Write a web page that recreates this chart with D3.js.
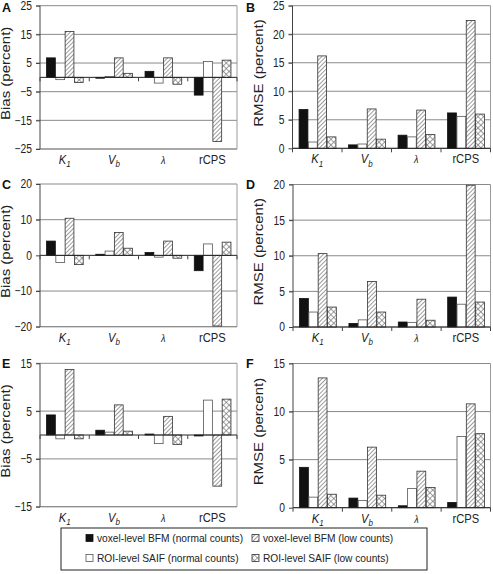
<!DOCTYPE html>
<html><head><meta charset="utf-8">
<script src="https://cdn.jsdelivr.net/npm/d3@7"></script>
<style>body{margin:0;background:#fff}svg{display:block;font-family:"Liberation Sans",Arial,sans-serif}</style>
</head><body><svg id="c" width="493" height="574"></svg>
<script>
const categories = ["K1", "Vb", "λ", "rCPS"];
const seriesNames = ["voxel-level BFM (normal counts)", "ROI-level SAIF (normal counts)", "voxel-level BFM (low counts)", "ROI-level SAIF (low counts)"];

// Panel A: bias
const A_voxelNormal = [6.8, -0.3, 2.1, -6.2];
const A_roiNormal   = [-0.8, 0.3, -2.0, 5.5];
const A_voxelLow    = [16.0, 6.8, 6.8, -22.4];
const A_roiLow      = [-1.8, 1.4, -2.4, 6.0];
const A_ticks = [-25, -15, -5, 5, 15, 25];
// Panel B: RMSE
const B_voxelNormal = [6.8, 0.6, 2.3, 6.2];
const B_roiNormal   = [1.1, 0.75, 2.0, 5.6];
const B_voxelLow    = [16.2, 6.9, 6.7, 22.4];
const B_roiLow      = [2.0, 1.6, 2.4, 6.0];
const B_ticks = [0, 5, 10, 15, 20, 25];
// Panel C: bias
const C_voxelNormal = [4.0, 0.3, 0.8, -4.3];
const C_roiNormal   = [-2.0, 1.2, -0.5, 3.2];
const C_voxelLow    = [10.4, 6.4, 4.0, -19.8];
const C_roiLow      = [-2.6, 2.0, -0.8, 3.7];
const C_ticks = [-20, -10, 0, 10, 20];
// Panel D: RMSE
const D_voxelNormal = [4.0, 0.5, 0.7, 4.2];
const D_roiNormal   = [2.1, 1.0, 0.65, 3.2];
const D_voxelLow    = [10.3, 6.4, 3.9, 19.9];
const D_roiLow      = [2.8, 2.1, 0.95, 3.5];
const D_ticks = [0, 5, 10, 15, 20];
// Panel E: bias
const E_voxelNormal = [4.2, 1.0, 0.2, -0.2];
const E_roiNormal   = [-0.8, 0.6, -1.8, 7.3];
const E_voxelLow    = [13.7, 6.3, 3.9, -10.7];
const E_roiLow      = [-0.8, 0.8, -2.0, 7.5];
const E_ticks = [-15, -5, 5, 15];
// Panel F: RMSE
const F_voxelNormal = [4.2, 1.0, 0.2, 0.55];
const F_roiNormal   = [1.1, 0.75, 2.0, 7.4];
const F_voxelLow    = [13.5, 6.3, 3.8, 10.8];
const F_roiLow      = [1.4, 1.3, 2.1, 7.7];
const F_ticks = [0, 5, 10, 15];

const svg = d3.select("#c");
const defs = svg.append("defs");
const ph = defs.append("pattern").attr("id","hatch").attr("patternUnits","userSpaceOnUse")
  .attr("width",3).attr("height",3).attr("patternTransform","rotate(45)");
ph.append("rect").attr("width",3).attr("height",3).attr("fill","#fff");
ph.append("line").attr("x1",0).attr("y1",0).attr("x2",0).attr("y2",3).attr("stroke","#666").attr("stroke-width",1.3);
const pc = defs.append("pattern").attr("id","cross").attr("patternUnits","userSpaceOnUse")
  .attr("width",4).attr("height",4).attr("patternTransform","rotate(45)");
pc.append("rect").attr("width",4).attr("height",4).attr("fill","#fff");
pc.append("line").attr("x1",0).attr("y1",0).attr("x2",0).attr("y2",4).attr("stroke","#777").attr("stroke-width",1.4);
pc.append("line").attr("x1",0).attr("y1",0).attr("x2",4).attr("y2",0).attr("stroke","#777").attr("stroke-width",1.4);

const fills = ["#111", "#fff", "url(#hatch)", "url(#cross)"];
const strokes = ["#111", "#555", "#333", "#333"];

const panels = [
  {id:"A", x0:40, x1:237, y0:5.7, y1:149, dom:[-25,25], ticks:A_ticks, series:[A_voxelNormal,A_roiNormal,A_voxelLow,A_roiLow], label:"Bias (percent)", lx:10, letterX:2, letterY:12},
  {id:"B", x0:292.5, x1:490.5, y0:5.7, y1:148.3, dom:[0,25], ticks:B_ticks, series:[B_voxelNormal,B_roiNormal,B_voxelLow,B_roiLow], label:"RMSE (percent)", lx:263, letterX:246, letterY:12},
  {id:"C", x0:40, x1:237, y0:184, y1:326.7, dom:[-20,20], ticks:C_ticks, series:[C_voxelNormal,C_roiNormal,C_voxelLow,C_roiLow], label:"Bias (percent)", lx:10, letterX:2, letterY:189},
  {id:"D", x0:293, x1:490.5, y0:184.5, y1:327, dom:[0,20], ticks:D_ticks, series:[D_voxelNormal,D_roiNormal,D_voxelLow,D_roiLow], label:"RMSE (percent)", lx:263, letterX:246, letterY:189},
  {id:"E", x0:40, x1:237, y0:363.3, y1:506.7, dom:[-15,15], ticks:E_ticks, series:[E_voxelNormal,E_roiNormal,E_voxelLow,E_roiLow], label:"Bias (percent)", lx:10, letterX:2, letterY:368},
  {id:"F", x0:293, x1:490.5, y0:363.5, y1:507.7, dom:[0,15], ticks:F_ticks, series:[F_voxelNormal,F_roiNormal,F_voxelLow,F_roiLow], label:"RMSE (percent)", lx:263, letterX:246, letterY:368}
];

function catLabel(sel, c){
  if(c==="K1"){ sel.append("tspan").attr("font-style","italic").text("K");
    sel.append("tspan").attr("font-style","italic").attr("font-size",8).attr("dy",3).text("1"); }
  else if(c==="Vb"){ sel.append("tspan").attr("font-style","italic").text("V");
    sel.append("tspan").attr("font-style","italic").attr("font-size",8).attr("dy",3).text("b"); }
  else if(c==="λ"){ sel.append("tspan").attr("font-style","italic").attr("font-size",9).text("λ"); }
  else sel.text(c);
}

panels.forEach(p=>{
  const g = svg.append("g");
  const y = d3.scaleLinear().domain(p.dom).range([p.y1,p.y0]);
  const x = d3.scaleBand().domain(categories).range([p.x0,p.x1]).paddingInner(0).paddingOuter(0);
  const xi = d3.scaleBand().domain(d3.range(4)).range([0,x.bandwidth()]).paddingInner(0).paddingOuter(0.65);
  g.selectAll(".grid").data(p.ticks.filter(t=>t!==0)).join("line")
    .attr("x1",p.x0-4).attr("x2",p.x1).attr("y1",d=>y(d)).attr("y2",d=>y(d))
    .attr("stroke","#8a8a8a").attr("stroke-width",1);
  g.append("line").attr("x1",p.x0).attr("x2",p.x1).attr("y1",p.y1).attr("y2",p.y1).attr("stroke","#8a8a8a");
  g.append("line").attr("x1",p.x1).attr("x2",p.x1).attr("y1",p.y0).attr("y2",p.y1).attr("stroke","#9a9a9a");
  p.series.forEach((vals,si)=>{
    g.selectAll(null).data(vals).join("rect")
      .attr("x",(d,i)=>x(categories[i])+xi(si)+0.5)
      .attr("width",xi.bandwidth()-0.5)
      .attr("y",d=>Math.min(y(d),y(0)))
      .attr("height",d=>Math.abs(y(d)-y(0)))
      .attr("fill",fills[si]).attr("stroke",strokes[si]).attr("stroke-width",0.8);
  });
  g.append("line").attr("x1",p.x0).attr("x2",p.x1).attr("y1",y(0)).attr("y2",y(0)).attr("stroke","#222").attr("stroke-width",1);
  const bounds = categories.map(c=>x(c)).concat([p.x1]);
  g.selectAll(null).data(bounds).join("line")
    .attr("x1",d=>d).attr("x2",d=>d).attr("y1",y(0)).attr("y2",y(0)+4)
    .attr("stroke","#444");
  const ax = d3.axisLeft(y).tickValues(p.ticks).tickSize(4).tickFormat(d3.format("d"));
  const ag = g.append("g").attr("transform",`translate(${p.x0},0)`).call(ax);
  ag.select(".domain").attr("stroke","#444").attr("d",`M-0,${p.y0}V${p.y1}`);
  ag.selectAll(".tick line").attr("stroke","#444");
  ag.selectAll(".tick text").attr("font-size",10.3).attr("fill","#222")
    .attr("font-family","Liberation Sans, Arial, sans-serif").attr("x",-8)
    .attr("transform","scale(1,1.2)");
  categories.forEach(c=>{
    const t = g.append("text").attr("transform",`translate(${x(c)+x.bandwidth()/2},${p.y1+15}) scale(1,1.15)`)
      .attr("text-anchor","middle").attr("font-size",11.2).attr("fill","#222");
    catLabel(t,c);
  });
  g.append("text").attr("transform",`translate(${p.lx},${(p.y0+p.y1)/2-4}) scale(1,1.25) rotate(-90)`)
    .attr("text-anchor","middle").attr("font-size",12).attr("fill","#222").text(p.label);
  g.append("text").attr("x",p.letterX).attr("y",p.letterY).attr("font-size",12.5).attr("font-weight","bold").attr("fill","#111").text(p.id);
});

// legend
const lg = svg.append("g");
lg.append("rect").attr("x",61).attr("y",528).attr("width",366).attr("height",42).attr("fill","#fff").attr("stroke","#222").attr("stroke-width",1);
const legPos = [[86,538],[86,558],[252,538],[252,558]];
seriesNames.forEach((n,i)=>{
  const [lx,ly] = legPos[i];
  lg.append("rect").attr("x",lx).attr("y",ly-3.5).attr("width",7).attr("height",7)
    .attr("fill",fills[i]).attr("stroke",strokes[i]).attr("stroke-width",0.8);
  lg.append("text").attr("x",lx+11).attr("y",ly+3.5).attr("font-size",10.2).attr("fill","#222").text(n);
});
</script></body></html>
